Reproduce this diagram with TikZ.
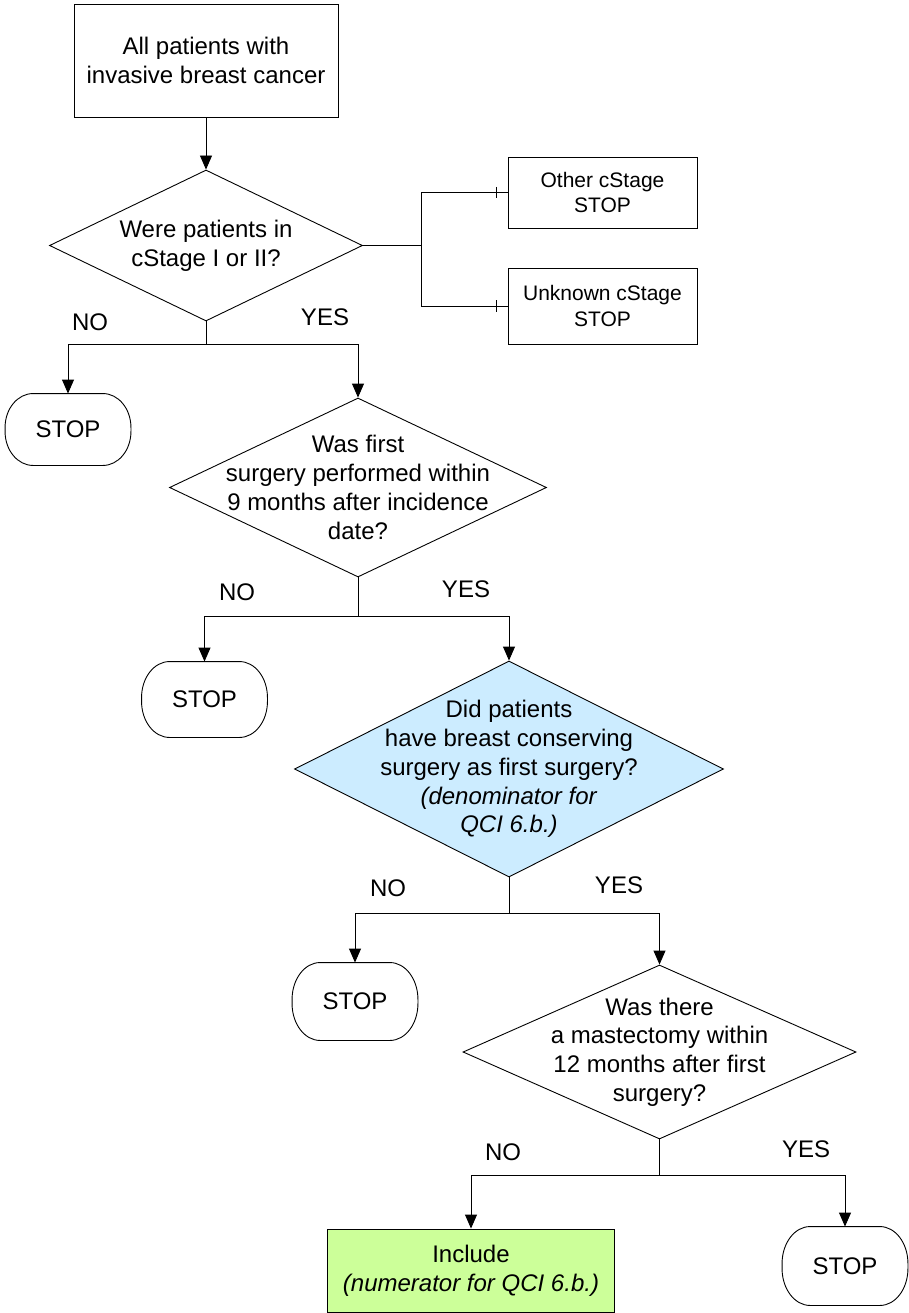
\documentclass[tikz,border=0pt]{standalone}
\usepackage{fontspec}
\setmainfont{Liberation Sans}
\usetikzlibrary{shapes.geometric,arrows.meta}
\definecolor{qblue}{HTML}{CCECFF}
\definecolor{qgreen}{HTML}{CCFF99}
\newcommand\termoutline[2]{\draw ([xshift=28pt]#1.north west) -- ([xshift=-28pt]#1.north east)
  arc[start angle=90,end angle=0,x radius=28pt,y radius=#2pt] -- ([yshift=#2pt]#1.south east)
  arc[start angle=0,end angle=-90,x radius=28pt,y radius=#2pt] -- ([xshift=28pt]#1.south west)
  arc[start angle=270,end angle=180,x radius=28pt,y radius=#2pt] -- ([yshift=-#2pt]#1.north west)
  arc[start angle=180,end angle=90,x radius=28pt,y radius=#2pt] -- cycle;}
\begin{document}
\begin{tikzpicture}[x=1pt,y=1pt,line width=0.9pt,
  base/.style={font=\fontsize{24}{28.8}\selectfont, align=center, inner sep=0pt},
  smallbase/.style={font=\fontsize{21}{25.5}\selectfont, align=center, inner sep=0pt},
  box/.style={base, draw},
  sbox/.style={smallbase, draw},
  dia/.style={diamond, draw, inner sep=0pt},
  txt/.style={base},
  lab/.style={base},
  term/.style={base, minimum width=125pt},
  arr/.style={-{Triangle[length=14pt,width=12pt]}}
]
\useasboundingbox (0,0) rectangle (909,-1313);

% start box
\node[box, minimum width=264pt, minimum height=113pt] (start) at (206,-60.5) {All patients with\\invasive breast cancer};

% decision 1
\node[dia, minimum width=313pt, minimum height=151pt] (d1) at (206,-245.5) {};
\node[txt] (d1t) at (d1) {Were patients in\\cStage I or II?};

% side boxes
\node[sbox, minimum width=189pt, minimum height=71pt] (oth) at (602.5,-192.5) {Other cStage\\STOP};
\node[sbox, minimum width=189pt, minimum height=76pt] (unk) at (602.5,-306) {Unknown cStage\\STOP};

% stop 1
\node[term, minimum height=71pt] (s1) at (68,-429.5) {STOP};
\termoutline{s1}{34}

% decision 2
\node[dia, minimum width=377pt, minimum height=179pt] (d2) at (358,-487.5) {};
\node[txt] (d2t) at (d2) {Was first\\surgery performed within\\9 months after incidence\\date?};

% stop 2
\node[term, minimum height=75pt] (s2) at (204.5,-699.5) {STOP};
\termoutline{s2}{36}

% decision 3
\node[dia, fill=qblue, minimum width=429pt, minimum height=216pt] (d3) at (509,-769) {};
\node[txt] (d3t) at (d3) {Did patients\\have breast conserving\\surgery as first surgery?\\\textit{(denominator for}\\\textit{QCI 6.b.)}};

% stop 3
\node[term, minimum height=77pt] (s3) at (355,-1001.5) {STOP};
\termoutline{s3}{37}

% decision 4
\node[dia, minimum width=393pt, minimum height=174pt] (d4) at (659.5,-1052) {};
\node[txt] (d4t) at (d4) {Was there\\a mastectomy within\\12 months after first\\surgery?};

% include
\node[box, fill=qgreen, minimum width=287pt, minimum height=83pt] (inc) at (471,-1270.5) {Include\\\textit{(numerator for QCI 6.b.)}};

% stop 4
\node[term, minimum height=78pt] (s4) at (845,-1266) {STOP};
\termoutline{s4}{37}

% labels
\node[lab] (n1) at (90,-322) {NO};
\node[lab] (y1) at (325,-317) {YES};
\node[lab] (n2) at (237,-592) {NO};
\node[lab] (y2) at (466,-589) {YES};
\node[lab] (n3) at (388,-888) {NO};
\node[lab] (y3) at (619,-885) {YES};
\node[lab] (n4) at (503,-1152) {NO};
\node[lab] (y4) at (806,-1149) {YES};

% connectors
\draw[arr] (start.south) -- (d1.north);

\draw (d1.east) -- ++(58,0) coordinate (rb);
\draw (rb) |- (oth.west);
\draw (rb) |- (unk.west);
\draw ([xshift=-11pt,yshift=5.5pt]oth.west) -- ([xshift=-11pt,yshift=-5.5pt]oth.west);
\draw ([xshift=-11pt,yshift=5.5pt]unk.west) -- ([xshift=-11pt,yshift=-5.5pt]unk.west);

\draw[arr] (d1.south) -- ++(0,-23) -| (s1.north);
\draw[arr] (d1.south) -- ++(0,-23) -| (d2.north);

\draw[arr] (d2.south) -- ++(0,-39) -| (s2.north);
\draw[arr] (d2.south) -- ++(0,-39) -| (d3.north);

\draw[arr] (d3.south) -- ++(0,-36) -| (s3.north);
\draw[arr] (d3.south) -- ++(0,-36) -| (d4.north);

\draw[arr] (d4.south) -- ++(0,-36) -| (inc.north);
\draw[arr] (d4.south) -- ++(0,-36) -| (s4.north);
\end{tikzpicture}
\end{document}
